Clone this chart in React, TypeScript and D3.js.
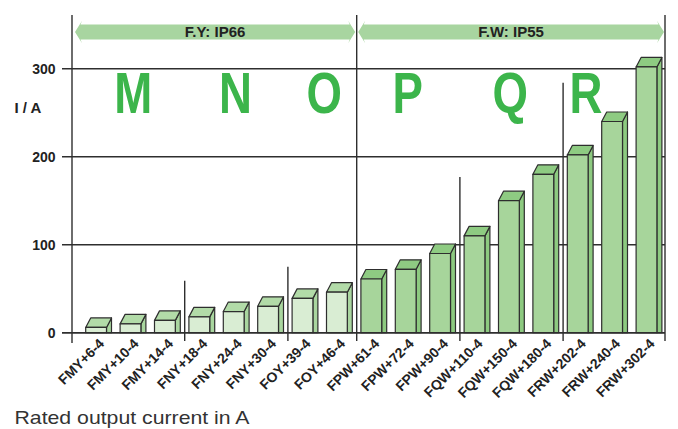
import React from "react";
import * as d3 from "d3";

const categories = [
  "FMY+6-4", "FMY+10-4", "FMY+14-4", "FNY+18-4", "FNY+24-4", "FNY+30-4",
  "FOY+39-4", "FOY+46-4", "FPW+61-4", "FPW+72-4", "FPW+90-4", "FQW+110-4",
  "FQW+150-4", "FQW+180-4", "FRW+202-4", "FRW+240-4", "FRW+302-4",
];
const currents = [6, 10, 14, 18, 24, 30, 39, 46, 61, 72, 90, 110, 150, 180, 202, 240, 302];
const series = ["Y", "Y", "Y", "Y", "Y", "Y", "Y", "Y", "W", "W", "W", "W", "W", "W", "W", "W", "W"];
const yTicks = [0, 100, 200, 300];
// separators: index of the category they precede, top value (null = full height)
const separatorBefore = [3, 6, 8, 11, 14];
const separatorTop = [59, 75, null, 177, 284];
// frame letters and their position expressed as fractional category index
const frameLetters = ["M", "N", "O", "P", "Q", "R"];
const frameLetterPos = [1.08, 4.05, 6.63, 9.06, 12.04, 14.24];
// protection class arrows: from-index, to-index, label
const arrowLabels = ["F.Y: IP66", "F.W: IP55"];
const arrowFrom = [0, 8];
const arrowTo = [8, 17];

const W = 678;
const H = 429;
const FONT = "'Liberation Sans', Arial, sans-serif";

export default function App() {
  const axisX = 72;
  const rightX = 665;
  const topY = 15;
  const y = d3.scaleLinear().domain([0, 300]).range([332.7, 68.7]);
  const x = d3.scaleBand<string>().domain(categories).range([81.5, 666.3]).paddingInner(0).paddingOuter(0);
  const step = x.step();
  const frontOff = 4.2;
  const frontW = 20.8;
  const dx = 5;
  const dy = 9.5;
  const stroke = "#2e2e2e";
  const y0 = y(0);

  const colors: Record<string, { front: string; top: string; side: string }> = {
    Y: { front: "#d9edd3", top: "#b2dba8", side: "#a9d69f" },
    W: { front: "#a7d59b", top: "#8ecb82", side: "#8dca80" },
  };

  const bandEdge = (i: number) => (i >= categories.length ? rightX : (x(categories[i]) as number));

  return (
    <svg width={W} height={H} style={{ position: "absolute", left: 0, top: 0, background: "#fff" }} fontFamily={FONT}>
      {/* arrows */}
      {arrowLabels.map((lab, k) => {
        const x1 = arrowFrom[k] === 0 ? axisX + 3 : bandEdge(arrowFrom[k]) + 1.5;
        const x2 = arrowTo[k] >= categories.length ? rightX - 1 : bandEdge(arrowTo[k]) - 1.5;
        const cy = 32;
        const bh = 7.5;
        const hh = 11.3;
        const hl = 7;
        const d = `M${x1},${cy} L${x1 + hl},${cy - hh} L${x1 + hl - 1.5},${cy - bh} L${x2 - hl + 1.5},${cy - bh} L${x2 - hl},${cy - hh} L${x2},${cy} L${x2 - hl},${cy + hh} L${x2 - hl + 1.5},${cy + bh} L${x1 + hl - 1.5},${cy + bh} L${x1 + hl},${cy + hh} Z`;
        return (
          <g key={lab}>
            <path d={d} fill="#a8d5a0" />
            <text x={(x1 + x2) / 2} y={cy} dy="0.36em" textAnchor="middle" fontSize={15} fontWeight="bold" fill="#222">
              {lab}
            </text>
          </g>
        );
      })}

      {/* gridlines */}
      {yTicks.map((t) => (
        <g key={t}>
          <line x1={62} x2={rightX} y1={y(t)} y2={y(t)} stroke={stroke} strokeWidth={1.4} />
          <text x={55.5} y={y(t)} dy="0.36em" textAnchor="end" fontSize={14} fontWeight="bold" fill="#222">
            {t}
          </text>
        </g>
      ))}

      {/* axes & frame */}
      <line x1={axisX} x2={axisX} y1={topY} y2={343} stroke={stroke} strokeWidth={1.4} />
      <line x1={rightX} x2={rightX} y1={topY} y2={341} stroke={stroke} strokeWidth={1.4} />
      {separatorBefore.map((idx, k) => {
        const sx = bandEdge(idx);
        const top = separatorTop[k] == null ? topY : y(separatorTop[k] as number);
        return <line key={idx} x1={sx} x2={sx} y1={top} y2={341} stroke={stroke} strokeWidth={1.4} />;
      })}

      {/* frame letters */}
      {frameLetters.map((L, k) => {
        const lx = x.range()[0] + frameLetterPos[k] * step + frontOff + frontW / 2;
        return (
          <text
            key={L}
            transform={`translate(${lx},113.3) scale(0.8,1)`}
            textAnchor="middle"
            fontSize={57}
            fontWeight="bold"
            fill="#3cb54b"
          >
            {L}
          </text>
        );
      })}

      {/* y label */}
      <text x={14.5} y={113} fontSize={15} fontWeight="bold" fill="#222">I / A</text>

      {/* bars */}
      {categories.map((c, i) => {
        const bx = (x(c) as number) + frontOff;
        const by = y(currents[i]);
        const col = colors[series[i]];
        const front = `M${bx},${y0} L${bx},${by} L${bx + frontW},${by} L${bx + frontW},${y0} Z`;
        const top = `M${bx},${by} L${bx + dx},${by - dy} L${bx + frontW + dx},${by - dy} L${bx + frontW},${by} Z`;
        const side = `M${bx + frontW},${by} L${bx + frontW + dx},${by - dy} L${bx + frontW + dx},${y0} L${bx + frontW},${y0} Z`;
        return (
          <g key={c} stroke={stroke} strokeWidth={1.2} strokeLinejoin="round">
            <path d={side} fill={col.side} />
            <path d={top} fill={col.top} />
            <path d={front} fill={col.front} />
          </g>
        );
      })}

      {/* baseline */}
      <line x1={62} x2={rightX} y1={y0} y2={y0} stroke={stroke} strokeWidth={1.6} />

      {/* category labels */}
      {categories.map((c) => {
        const cx = (x(c) as number) + frontOff + frontW / 2 + 9;
        return (
          <text
            key={c}
            transform={`translate(${cx},344.5) rotate(-45)`}
            textAnchor="end"
            fontSize={14}
            fontWeight="bold"
            fill="#222"
          >
            {c}
          </text>
        );
      })}

      {/* x title */}
      <text x={14.5} y={423.5} fontSize={18.5} fill="#333" textLength={235} lengthAdjust="spacingAndGlyphs">
        Rated output current in A
      </text>
    </svg>
  );
}
